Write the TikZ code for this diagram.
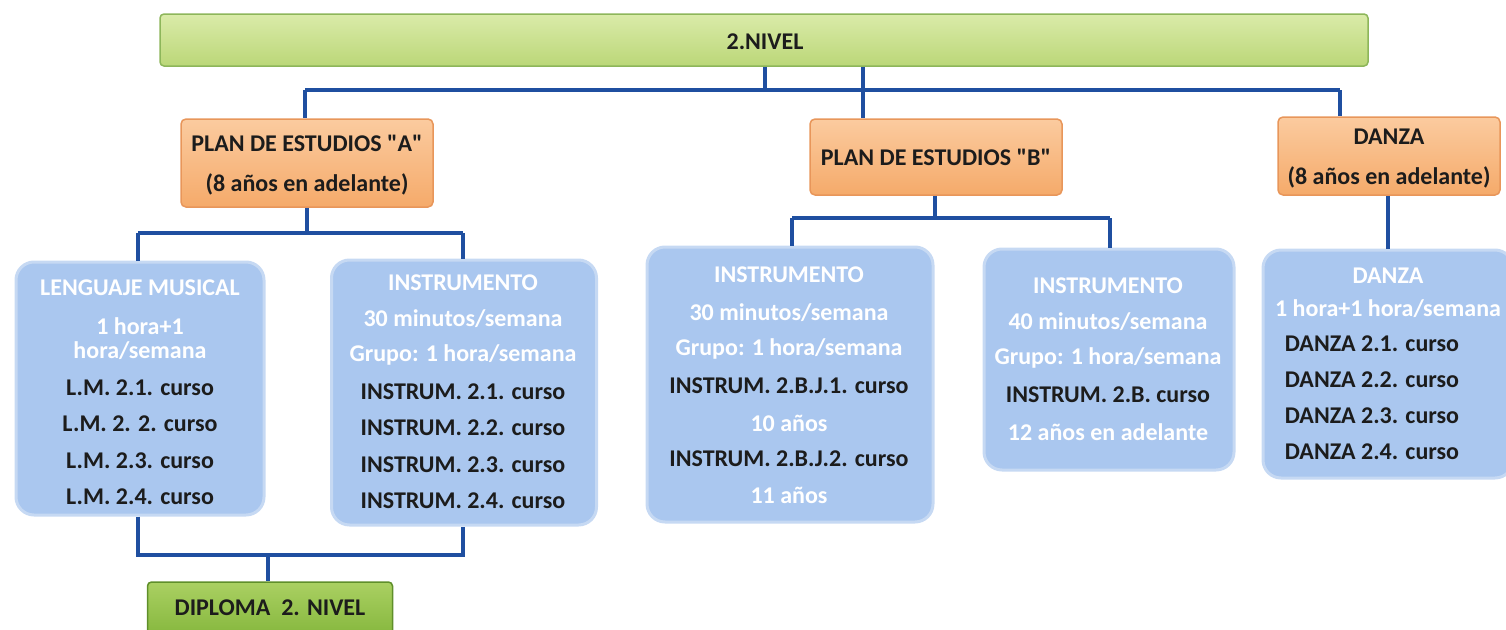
\documentclass[tikz,border=0pt]{standalone}
\usepackage{fontspec}
\setmainfont{Carlito}[Ligatures=TeXOff]
\definecolor{conncol}{HTML}{1F4FA0}
\definecolor{blueA}{HTML}{AAC7EF}
\definecolor{blueB}{HTML}{C6D9F3}
\definecolor{orT}{HTML}{FBCB9F}
\definecolor{orB}{HTML}{F5AA6A}
\definecolor{orD}{HTML}{E8965A}
\definecolor{grT}{HTML}{DAEBA9}
\definecolor{grB}{HTML}{BBD778}
\definecolor{grD}{HTML}{8DB65A}
\definecolor{dpT}{HTML}{AAD062}
\definecolor{dpB}{HTML}{84B63C}
\definecolor{dpD}{HTML}{5F8F2A}
\definecolor{txtdark}{HTML}{1C1C1C}
\tikzset{
  conn/.style={draw=conncol, line width=4pt, line join=miter},
  bluebox/.style={rectangle, rounded corners=18pt, fill=blueA, draw=blueB, line width=3pt, inner sep=0pt},
  orangebox/.style={rectangle, rounded corners=5pt, top color=orT, bottom color=orB, draw=orD, line width=1.5pt, inner sep=0pt},
  greenbox/.style={rectangle, rounded corners=4pt, top color=grT, bottom color=grB, draw=grD, line width=1.5pt, inner sep=0pt},
  dipbox/.style={rectangle, rounded corners=4pt, top color=dpT, bottom color=dpB, draw=dpD, line width=1.5pt, inner sep=0pt},
  wt/.style={text=white, font=\fontsize{24}{28}\selectfont\bfseries, inner sep=0pt, align=center},
  dk/.style={text=txtdark, font=\fontsize{24}{28}\selectfont\bfseries, inner sep=0pt, align=center}
}
\begin{document}
\begin{tikzpicture}[x=1pt,y=-1pt]
\useasboundingbox (0,0) rectangle (1506,629);
% boxes
\node[greenbox, minimum width=1208pt, minimum height=52pt] (top) at (764,40) {};
\node[orangebox, minimum width=252pt, minimum height=88pt] (planA) at (307,163) {};
\node[orangebox, minimum width=252pt, minimum height=76pt] (planB) at (936,157) {};
\node[orangebox, minimum width=222pt, minimum height=78pt] (danzaA) at (1389,156) {};
\node[bluebox, minimum width=248pt, minimum height=253pt] (lm) at (140,388.5) {};
\node[bluebox, minimum width=265pt, minimum height=265pt] (ima) at (464,392.5) {};
\node[bluebox, minimum width=286pt, minimum height=275pt] (imb1) at (790,384.5) {};
\node[bluebox, minimum width=250pt, minimum height=221pt] (imb2) at (1109,359.5) {};
\node[bluebox, minimum width=250pt, minimum height=228pt] (dz) at (1388,364) {};
\node[dipbox, minimum width=245pt, minimum height=56pt] (dip) at (270,610) {};
% junction coordinates
\coordinate (jtop) at (765,90);
\coordinate (jA) at (305,90);
\coordinate (jB) at (863,90);
\coordinate (jD) at (1340,90);
\coordinate (a1) at (307,233);
\coordinate (aL) at (138,233);
\coordinate (aR) at (463,233);
\coordinate (b1) at (935,218);
\coordinate (bbL) at (792,218);
\coordinate (bbR) at (1110,218);
\coordinate (cL) at (138,555);
\coordinate (cR) at (463,555);
\coordinate (cM) at (268,555);
% connectors
\draw[conn] (top.south -| jtop) -- (jtop);
\draw[conn] (jA) -- (jD);
\draw[conn] (jA) -- (planA.north -| jA);
\draw[conn] (jD) -- (danzaA.north -| jD);
\draw[conn] (top.south -| jB) -- (planB.north -| jB);
\draw[conn] (planA.south -| a1) -- (a1);
\draw[conn] (aL) -- (aR);
\draw[conn] (aL) -- (lm.north -| aL);
\draw[conn] (aR) -- (ima.north -| aR);
\draw[conn] (planB.south -| b1) -- (b1);
\draw[conn] (bbL) -- (bbR);
\draw[conn] (bbL) -- (imb1.north -| bbL);
\draw[conn] (bbR) -- (imb2.north -| bbR);
\draw[conn] (danzaA.south -| dz.north) -- (dz.north);
\draw[conn] (lm.south -| cL) -- (cL) -- (cR) -- (ima.south -| cR);
\draw[conn] (cM) -- (dip.north -| cM);
% texts
\node[dk] (ttop) at (765,42) {2.NIVEL};
\node[dk] (tpa1) at (307,143) {PLAN DE ESTUDIOS "A"};
\node[dk] (tpa2) at (307,184) {(8 años en adelante)};
\node[dk] (tpb) at (936,157) {PLAN DE ESTUDIOS "B"};
\node[dk] (tda1) at (1389,137) {DANZA};
\node[dk] (tda2) at (1389,177) {(8 años en adelante)};
% LM
\node[wt] (lm1) at (140,288) {LENGUAJE MUSICAL};
\node[wt] (lm2) at (140,326) {1 hora+1};
\node[wt] (lm3) at (140,351) {hora/semana};
\node[dk] (lm4) at (140,388) {L.M. 2.1. curso};
\node[dk] (lm5) at (140,424) {L.M. 2. 2. curso};
\node[dk] (lm6) at (140,461) {L.M. 2.3. curso};
\node[dk] (lm7) at (140,497) {L.M. 2.4. curso};
% IM A
\node[wt] (ia1) at (463,283) {INSTRUMENTO};
\node[wt] (ia2) at (463,319) {30 minutos/semana};
\node[wt] (ia3) at (463,355) {Grupo: 1 hora/semana};
\node[dk] (ia4) at (463,392) {INSTRUM. 2.1. curso};
\node[dk] (ia5) at (463,428) {INSTRUM. 2.2. curso};
\node[dk] (ia6) at (463,465) {INSTRUM. 2.3. curso};
\node[dk] (ia7) at (463,501) {INSTRUM. 2.4. curso};
% IM B1
\node[wt] (ib1) at (789,275) {INSTRUMENTO};
\node[wt] (ib2) at (789,313) {30 minutos/semana};
\node[wt] (ib3) at (789,349) {Grupo: 1 hora/semana};
\node[dk] (ib4) at (789,386) {INSTRUM. 2.B.J.1. curso};
\node[wt] (ib5) at (789,423) {10 años};
\node[dk] (ib6) at (789,459) {INSTRUM. 2.B.J.2. curso};
\node[wt] (ib7) at (789,495) {11 años};
% IM B2
\node[wt] (ic1) at (1108,286) {INSTRUMENTO};
\node[wt] (ic2) at (1108,322) {40 minutos/semana};
\node[wt] (ic3) at (1108,358) {Grupo: 1 hora/semana};
\node[dk] (ic4) at (1108,395) {INSTRUM. 2.B. curso};
\node[wt] (ic5) at (1108,432) {12 años en adelante};
% Danza
\node[wt] (dz1) at (1388,276) {DANZA};
\node[wt] (dz2) at (1388,309) {1 hora+1 hora/semana};
\node[dk] (dz3) at (1372,344) {DANZA 2.1. curso};
\node[dk] (dz4) at (1372,380) {DANZA 2.2. curso};
\node[dk] (dz5) at (1372,416) {DANZA 2.3. curso};
\node[dk] (dz6) at (1372,452) {DANZA 2.4. curso};
% Diploma
\node[dk] (tdip) at (270,608) {DIPLOMA~~2. NIVEL};
\end{tikzpicture}
\end{document}
